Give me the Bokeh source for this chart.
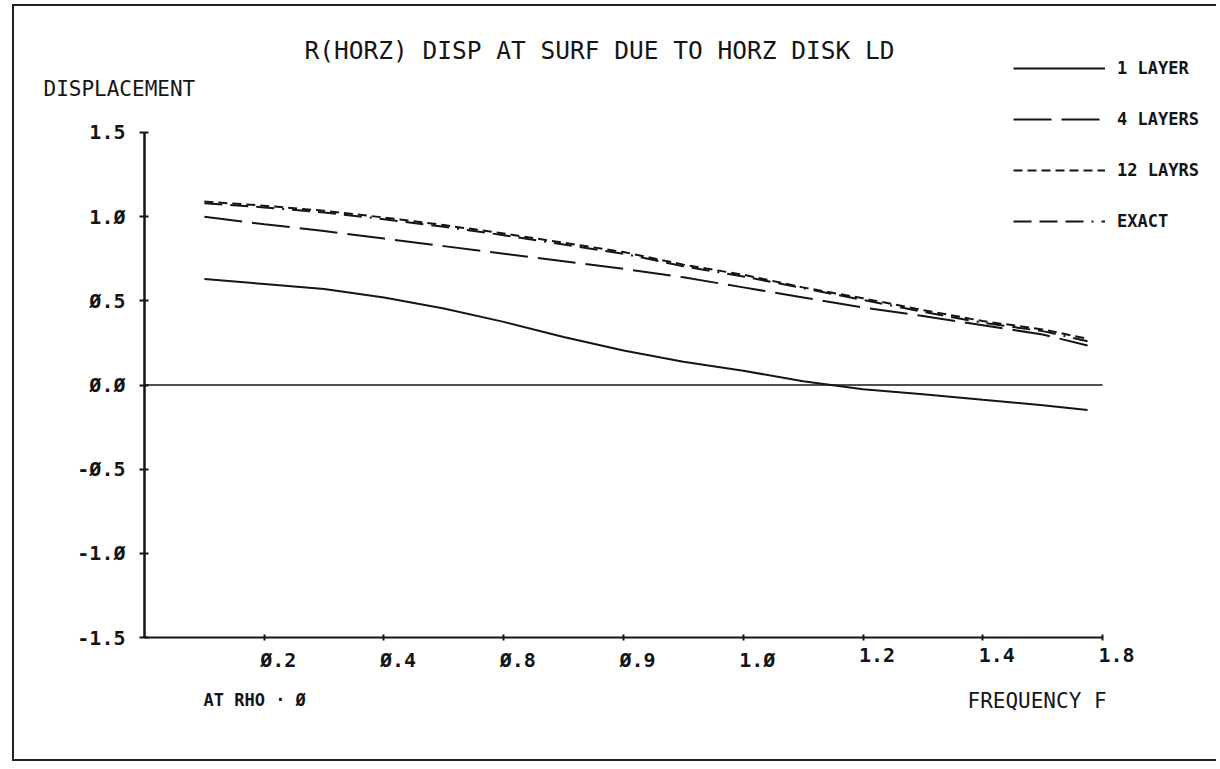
from bokeh.plotting import figure
from bokeh.models import (Range1d, FixedTicker, Label, Legend, LegendItem,
                          CustomJSTickFormatter, ColumnDataSource)
from bokeh.embed import file_html
from bokeh.resources import INLINE
from bokeh.core.properties import value

# ---------------- data ----------------
freq = [0.1, 0.2, 0.3, 0.4, 0.5, 0.6, 0.7, 0.8, 0.9, 1.0, 1.1, 1.2, 1.3, 1.4, 1.5, 1.575]
one_layer = [0.63, 0.60, 0.57, 0.52, 0.455, 0.375, 0.285, 0.205, 0.138, 0.085,
             0.022, -0.025, -0.055, -0.088, -0.12, -0.148]
four_layers = [1.0, 0.955, 0.915, 0.87, 0.825, 0.78, 0.735, 0.69, 0.64, 0.58,
               0.52, 0.46, 0.41, 0.355, 0.30, 0.235]
twelve_layers = [1.09, 1.065, 1.035, 0.995, 0.95, 0.90, 0.845, 0.79, 0.715, 0.655,
                 0.58, 0.515, 0.445, 0.38, 0.33, 0.275]
exact = [1.08, 1.055, 1.025, 0.985, 0.94, 0.89, 0.835, 0.78, 0.705, 0.645,
         0.575, 0.505, 0.435, 0.37, 0.32, 0.26]

series_labels = ["1 LAYER", "4 LAYERS", "12 LAYRS", "EXACT"]

x_axis_start = 0.0
x_ticks = [0.2, 0.4, 0.6, 0.8, 1.0, 1.2, 1.4, 1.6]
x_tick_labels = ["Ø.2", "Ø.4", "Ø.8", "Ø.9", "1.Ø", "1.2", "1.4", "1.8"]
y_ticks = [-1.5, -1.0, -0.5, 0.0, 0.5, 1.0, 1.5]
y_tick_labels = ["-1.5", "-1.Ø", "-Ø.5", "Ø.Ø", "Ø.5", "1.Ø", "1.5"]

title_text = "R(HORZ) DISP AT SURF DUE TO HORZ DISK LD"
y_title = "DISPLACEMENT"
x_title = "FREQUENCY F"
note_text = "AT RHO · Ø"

# ---------------- figure ----------------
FONT = "DejaVu Sans Mono"
INK = "#151515"
W, H = 1204, 757

p = figure(width=W, height=H, output_backend="svg", toolbar_location=None,
           x_range=Range1d(-0.2171, 1.7937), y_range=Range1d(-2.2485, 2.2485),
           min_border_left=0, min_border_right=0, min_border_top=0,
           min_border_bottom=0)
p.outline_line_color = None
p.grid.visible = False
p.background_fill_color = "white"
p.border_fill_color = "white"
p.styles = {"margin-left": "12px", "margin-top": "4px",
            "border-left": "2px solid #222", "border-top": "2px solid #222",
            "border-bottom": "2px solid #222"}

xa = p.xaxis[0]
xa.fixed_location = y_ticks[0]
xa.bounds = (x_axis_start, x_ticks[-1])
xa.ticker = FixedTicker(ticks=x_ticks)
xa.formatter = CustomJSTickFormatter(code="return '';")
xa.minor_tick_line_color = None
xa.major_tick_in = 3
xa.major_tick_out = 3
xa.axis_line_width = 2
xa.major_tick_line_width = 2
xa.axis_line_color = INK
xa.major_tick_line_color = INK

ya = p.yaxis[0]
ya.fixed_location = x_axis_start
ya.bounds = (y_ticks[0], y_ticks[-1])
ya.ticker = FixedTicker(ticks=y_ticks)
ya.formatter = CustomJSTickFormatter(args=dict(tvals=y_ticks, tlabs=y_tick_labels), code="""
    const i = tvals.findIndex(t => Math.abs(t - tick) < 1e-9);
    return i >= 0 ? tlabs[i] : '';
""")
ya.minor_tick_line_color = None
ya.major_tick_in = 4
ya.major_tick_out = 5
ya.axis_line_width = 2.5
ya.major_tick_line_width = 2
ya.axis_line_color = INK
ya.major_tick_line_color = INK
ya.major_label_text_font = FONT
ya.major_label_text_font_size = "20px"
ya.major_label_text_font_style = "bold"
ya.major_label_text_color = INK
ya.major_label_standoff = 14

# x tick labels: plotter style, starting at the tick
xlab = ColumnDataSource(dict(x=x_ticks, y=[y_ticks[0]] * len(x_ticks), t=x_tick_labels))
p.text(x="x", y="y", text="t", source=xlab, text_font=value(FONT),
       text_font_size="20px", text_font_style="bold", text_color=INK,
       text_align="left", text_baseline="top", x_offset=-4, y_offset=10)

# zero reference line along the axis extent
p.line(x=[x_axis_start, x_ticks[-1]], y=[0, 0], line_color=INK, line_width=1.5)

r1 = p.line(freq, one_layer, line_color=INK, line_width=2)
r4 = p.line(freq, four_layers, line_color=INK, line_width=2, line_dash="38 10")
r12 = p.line(freq, twelve_layers, line_color=INK, line_width=2, line_dash="9 5")
re_ = p.line(freq, exact, line_color=INK, line_width=2,
             line_dash="18 8 18 8 18 8 2 8")

legend = Legend(items=[LegendItem(label=series_labels[0], renderers=[r1]),
                       LegendItem(label=series_labels[1], renderers=[r4]),
                       LegendItem(label=series_labels[2], renderers=[r12]),
                       LegendItem(label=series_labels[3], renderers=[re_])],
                location=(999, 532), glyph_width=92, glyph_height=20,
                label_height=20, spacing=31, padding=0, margin=0,
                label_standoff=12, border_line_color=None,
                background_fill_alpha=0, label_text_font=FONT,
                label_text_font_style="bold", label_text_font_size="17px",
                label_text_color=INK)
p.add_layout(legend)

def add_label(text, x, y, size, align="left", style="normal"):
    p.add_layout(Label(x=x, y=y, x_units="screen", y_units="screen", text=text,
                       text_font=FONT, text_font_size=size, text_color=INK,
                       text_align=align, text_baseline="middle",
                       text_font_style=style))

add_label(title_text, 585, 713, "24.5px", align="center")
add_label(y_title, 29, 675, "21px")
add_label(note_text, 189, 64, "17px", style="bold")
add_label(x_title, 953, 63, "21px")

open("out.html", "w").write(file_html(p, INLINE))
